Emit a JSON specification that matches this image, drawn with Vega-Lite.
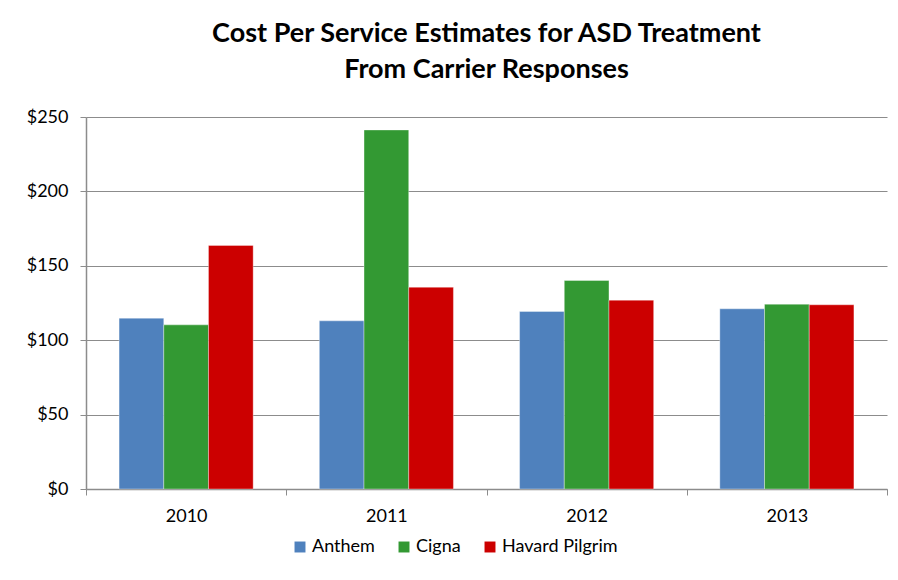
{
  "$schema": "https://vega.github.io/schema/vega-lite/v6.json",
  "width": 801,
  "height": 372,
  "autosize": {"type": "none"},
  "padding": {"left": 86, "top": 117, "right": 11, "bottom": 91},
  "background": "white",
  "title": {
    "text": ["Cost Per Service Estimates for ASD Treatment", "From Carrier Responses"],
    "font": "Lato",
    "fontSize": 27,
    "fontWeight": "bold",
    "color": "#000000",
    "lineHeight": 36,
    "anchor": "middle",
    "offset": 24
  },
  "config": {
    "view": {"stroke": null},
    "font": "Lato"
  },
  "data": {
    "values": [
      {"year": "2010", "carrier": "Anthem", "cost": 114.8},
      {"year": "2010", "carrier": "Cigna", "cost": 110.3},
      {"year": "2010", "carrier": "Havard Pilgrim", "cost": 163.7},
      {"year": "2011", "carrier": "Anthem", "cost": 113.0},
      {"year": "2011", "carrier": "Cigna", "cost": 241.3},
      {"year": "2011", "carrier": "Havard Pilgrim", "cost": 135.6},
      {"year": "2012", "carrier": "Anthem", "cost": 119.3},
      {"year": "2012", "carrier": "Cigna", "cost": 140.1},
      {"year": "2012", "carrier": "Havard Pilgrim", "cost": 126.9},
      {"year": "2013", "carrier": "Anthem", "cost": 121.1},
      {"year": "2013", "carrier": "Cigna", "cost": 124.2},
      {"year": "2013", "carrier": "Havard Pilgrim", "cost": 123.8}
    ]
  },
  "mark": {"type": "bar", "stroke": "#ffffff", "strokeWidth": 0.6, "strokeOpacity": 0.6},
  "encoding": {
    "x": {
      "field": "year",
      "type": "nominal",
      "scale": {"paddingInner": 0, "paddingOuter": 0},
      "axis": {
        "title": null,
        "labelAngle": 0,
        "labelFontSize": 18,
        "labelColor": "#000000",
        "labelPadding": 12,
        "tickBand": "extent",
        "tickSize": 6,
        "tickColor": "#8c8c8c",
        "domainColor": "#8c8c8c",
        "domainWidth": 1.5,
        "grid": false
      }
    },
    "xOffset": {"field": "carrier", "type": "nominal", "scale": {"paddingInner": 0, "paddingOuter": 0.74}},
    "y": {
      "field": "cost",
      "type": "quantitative",
      "scale": {"domain": [0, 250]},
      "axis": {
        "title": null,
        "values": [0, 50, 100, 150, 200, 250],
        "format": "$.0f",
        "labelFontSize": 18,
        "labelColor": "#000000",
        "labelPadding": 12,
        "tickSize": 6,
        "tickColor": "#8c8c8c",
        "domainColor": "#8c8c8c",
        "domainWidth": 1.5,
        "gridColor": "#8c8c8c",
        "gridWidth": 1.2
      }
    },
    "color": {
      "field": "carrier",
      "type": "nominal",
      "scale": {"domain": ["Anthem", "Cigna", "Havard Pilgrim"], "range": ["#4F81BD", "#339933", "#CC0000"]},
      "legend": {
        "title": null,
        "orient": "none",
        "legendX": 205,
        "legendY": 421,
        "direction": "horizontal",
        "symbolType": "square",
        "symbolSize": 120,
        "symbolStrokeWidth": 0,
        "labelFontSize": 18,
        "labelColor": "#000000",
        "columnPadding": 20,
        "labelOffset": 3
      }
    }
  }
}
